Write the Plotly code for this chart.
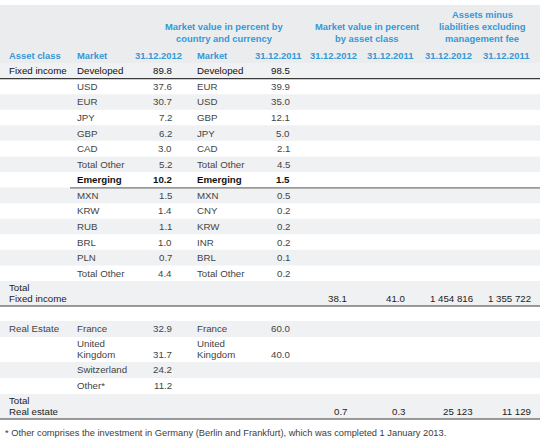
import plotly.graph_objects as go

# ---------------- data ----------------
group_headers = ["Market value in percent by<br>country and currency",
                 "Market value in percent<br>by asset class",
                 "Assets minus<br>liabilities excluding<br>management fee"]
column_headers = ["Asset class", "Market", "31.12.2012", "Market", "31.12.2011",
                  "31.12.2012", "31.12.2011", "31.12.2012", "31.12.2011"]

fi_markets_2012 = ["Developed", "USD", "EUR", "JPY", "GBP", "CAD", "Total Other",
                   "Emerging", "MXN", "KRW", "RUB", "BRL", "PLN", "Total Other"]
fi_values_2012 = [89.8, 37.6, 30.7, 7.2, 6.2, 3.0, 5.2, 10.2, 1.5, 1.4, 1.1, 1.0, 0.7, 4.4]
fi_markets_2011 = ["Developed", "EUR", "USD", "GBP", "JPY", "CAD", "Total Other",
                   "Emerging", "MXN", "CNY", "KRW", "INR", "BRL", "Total Other"]
fi_values_2011 = [98.5, 39.9, 35.0, 12.1, 5.0, 2.1, 4.5, 1.5, 0.5, 0.2, 0.2, 0.2, 0.1, 0.2]

re_markets_2012 = ["France", "United<br>Kingdom", "Switzerland", "Other*"]
re_values_2012 = [32.9, 31.7, 24.2, 11.2]
re_markets_2011 = ["France", "United<br>Kingdom"]
re_values_2011 = [60.0, 40.0]

asset_classes = ["Fixed income", "Real Estate"]
total_labels = ["Total<br>Fixed income", "Total<br>Real estate"]
share_2012 = [38.1, 0.7]
share_2011 = [41.0, 0.3]
nav_2012 = [1454816, 25123]
nav_2011 = [1355722, 11129]

footnote = "* Other comprises the investment in Germany (Berlin and Frankfurt), which was completed 1 January 2013."

# ---------------- style / layout constants ----------------
W, H = 550, 447
FONT = "Liberation Sans, Arial, sans-serif"
FS = 9.7
FS_HEAD = 9.4
BLUE = "#3499d6"
BODY = "#444444"
DARK = "#111111"
BAND = "#f0f1f2"
HEAD_BG = "#ebecee"
RIGHT = 540

X_ASSET, X_MKT12, X_V12, X_MKT11, X_V11 = 7, 75, 174, 195, 292
X_SH12, X_SH11, X_NAV12, X_NAV11 = 349, 407, 475, 533
HDR_X = [(7, "left"), (75, "left"), (184, "right"), (195, "left"), (303, "right"),
         (359, "right"), (415, "right"), (474, "right"), (531, "right")]
GROUP_X = [224, 367, 482]
GROUP_Y = [32, 32, 26]

fig = go.Figure()
shapes, ann = [], []


def text(x, y, s, anchor="left", color=BODY, bold=False, size=FS):
    lines = s.split("<br>")
    n = len(lines)
    step = 11 if n == 2 and size == FS else 12
    for i, ln in enumerate(lines):
        yy = y + (i - (n - 1) / 2) * step
        ann.append(dict(x=x, y=yy, xref="x", yref="y", text=f"<b>{ln}</b>" if bold else ln,
                        showarrow=False, xanchor=anchor, yanchor="middle",
                        font=dict(family=FONT, size=size, color=color)))


def band(y0, y1, color=BAND):
    shapes.append(dict(type="rect", xref="x", yref="y", x0=0, x1=RIGHT, y0=y0, y1=y1,
                       fillcolor=color, line=dict(width=0), layer="below"))


def hline(y, x0=0, color="#4a4a4a", width=1.2):
    shapes.append(dict(type="line", xref="x", yref="y", x0=x0, x1=RIGHT, y0=y, y1=y,
                       line=dict(color=color, width=width)))


fmt1 = lambda v: f"{v:.1f}"
fmtn = lambda v: f"{v:,}".replace(",", " ")

# header
band(5, 63, HEAD_BG)
for g, gx, gy in zip(group_headers, GROUP_X, GROUP_Y):
    text(gx, gy, g, "center", BLUE, True, FS_HEAD)
for h, (hx, anc) in zip(column_headers, HDR_X):
    text(hx, 55, h, anc, BLUE, True, FS_HEAD)

# fixed income section
top = 63.0
rh = 15.57
n_fi = len(fi_markets_2012)
for i in range(n_fi):
    y0 = top + i * rh
    y1 = y0 + rh
    if i % 2 == 0:
        band(y0, y1)
    yc = (y0 + y1) / 2
    if i == 0:
        col, b = DARK, False
        text(X_ASSET, yc, asset_classes[0], "left", col, b)
    elif fi_markets_2012[i] == "Emerging":
        col, b = DARK, True
    else:
        col, b = BODY, False
    text(X_MKT12, yc, fi_markets_2012[i], "left", col, b)
    text(X_V12, yc, fmt1(fi_values_2012[i]), "right", col, b)
    text(X_MKT11, yc, fi_markets_2011[i], "left", col, b)
    text(X_V11, yc, fmt1(fi_values_2011[i]), "right", col, b)
    if i == 0:
        hline(y1, 0, "#3a3a3a", 1.2)
    if fi_markets_2012[i] == "Emerging":
        hline(y1 + 0.3, 70, "#9a9a9a", 1.6)

y_end = top + n_fi * rh


def total_row(y0, y1, k):
    band(y0, y1)
    yc = (y0 + y1) / 2
    text(X_ASSET, yc, total_labels[k], "left", "#1c1c1c")
    yv = yc + 5.5
    text(X_SH12, yv, fmt1(share_2012[k]), "right", "#1c1c1c")
    text(X_SH11, yv, fmt1(share_2011[k]), "right", "#1c1c1c")
    text(X_NAV12, yv, fmtn(nav_2012[k]), "right", "#1c1c1c")
    text(X_NAV11, yv, fmtn(nav_2011[k]), "right", "#1c1c1c")
    hline(y1, 0, "#3a3a3a", 1.2)


total_row(y_end, y_end + 25, 0)

# real estate section
re_top = y_end + 40
re_heights = [16 if "<br>" not in m else 25 for m in re_markets_2012]
y0 = re_top
for i, m in enumerate(re_markets_2012):
    y1 = y0 + re_heights[i]
    if i % 2 == 0:
        band(y0, y1)
    yc = (y0 + y1) / 2
    yv = yc + (5.5 if "<br>" in m else 0)
    if i == 0:
        text(X_ASSET, yc, asset_classes[1], "left", BODY)
    text(X_MKT12, yc, m, "left", BODY)
    text(X_V12, yv, fmt1(re_values_2012[i]), "right", BODY)
    if i < len(re_markets_2011):
        text(X_MKT11, yc, re_markets_2011[i], "left", BODY)
        text(X_V11, yv, fmt1(re_values_2011[i]), "right", BODY)
    y0 = y1

total_row(y0, y0 + 25, 1)

# footnote
text(3, y0 + 39, footnote, "left", "#3c3c3c", False, 9.3)

fig.update_layout(
    width=W, height=H, margin=dict(l=0, r=0, t=0, b=0),
    paper_bgcolor="white", plot_bgcolor="white",
    xaxis=dict(range=[0, W], visible=False, fixedrange=True),
    yaxis=dict(range=[H, 0], visible=False, fixedrange=True),
    shapes=shapes, annotations=ann, showlegend=False, hovermode=False,
)
# remove the browser's default 8px body margin so the figure fills the window
fig.write_html("out.html", config={"displayModeBar": False},
               post_script="document.body.style.margin='0';document.body.style.overflow='hidden';")
